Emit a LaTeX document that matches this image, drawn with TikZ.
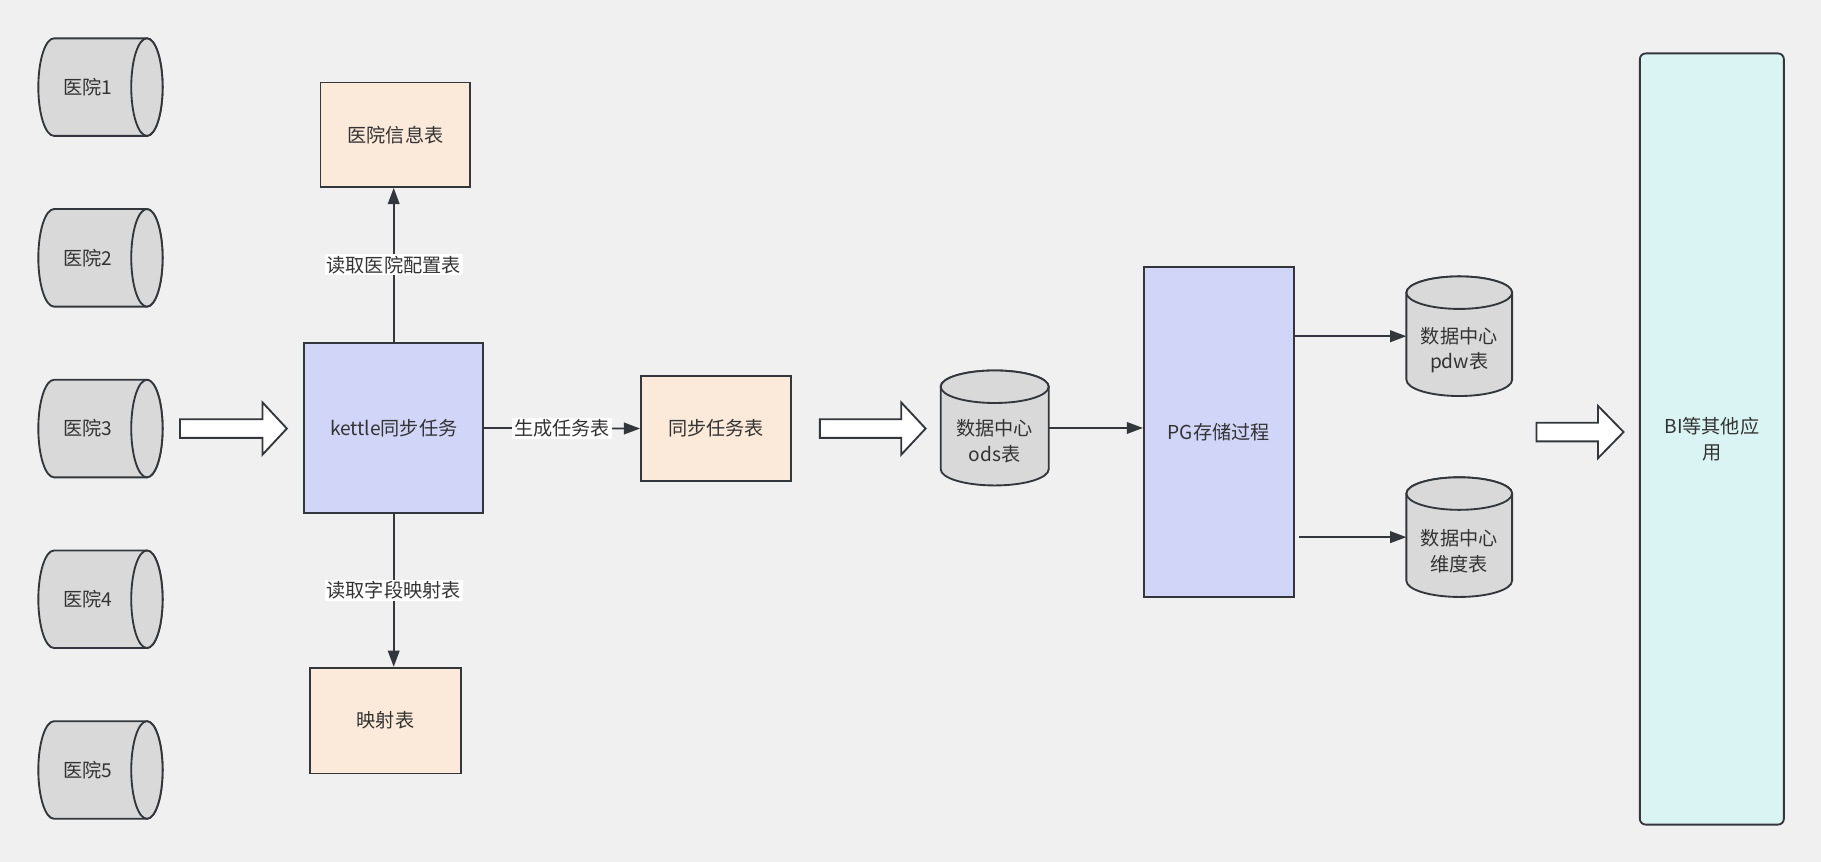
\documentclass[tikz,border=0pt]{standalone}
\usepackage{fontspec}
\setmainfont{Noto Sans CJK SC}
\usetikzlibrary{arrows.meta}
\definecolor{bgc}{HTML}{F0F0F0}
\definecolor{strokec}{HTML}{33363A}
\definecolor{txtc}{HTML}{333333}
\definecolor{peachc}{HTML}{FBE9D9}
\definecolor{lavc}{HTML}{D1D5F7}
\definecolor{cyanc}{HTML}{DAF3F3}
\definecolor{grayc}{HTML}{D9D9D9}
\tikzset{
  boxst/.style={draw=strokec, line width=1.6pt, text=txtc, inner sep=0pt, align=center},
  peachbox/.style={boxst, fill=peachc},
  lavbox/.style={boxst, fill=lavc},
  conn/.style={draw=strokec, line width=1.6pt, -{Triangle[length=14pt,width=10pt]}},
  lbl/.style={fill=white, inner sep=1.5pt, text=txtc},
  cylst/.style={fill=grayc, draw=strokec, line width=1.6pt},
  blkst/.style={fill=white, draw=strokec, line width=1.6pt, line join=miter},
  txtnode/.style={text=txtc, inner sep=0pt, align=center},
  area/.style={inner sep=0pt, outer sep=0pt}
}
\newcommand\myhcyl[3]{% L R cy
  \filldraw[cylst] ({#1+13.5},{#3-42}) -- ({#2-13.5},{#3-42})
    arc[start angle=90,end angle=-90,x radius=13.5pt,y radius=42pt]
    -- ({#1+13.5},{#3+42})
    arc[start angle=-90,end angle=-270,x radius=13.5pt,y radius=42pt] -- cycle;
  \draw[cylst] ({#2-13.5},{#3}) ellipse[x radius=13.5pt,y radius=42pt];}
\newcommand\myvcyl[4]{% L R T B
  \filldraw[cylst] ({#1},{#3+14}) -- ({#1},{#4-14})
    arc[start angle=180,end angle=360,x radius={(#2-#1)/2*1pt},y radius=14pt]
    -- ({#2},{#3+14})
    arc[start angle=0,end angle=180,x radius={(#2-#1)/2*1pt},y radius=14pt] -- cycle;
  \draw[cylst] ({(#1+#2)/2},{#3+14}) ellipse[x radius={(#2-#1)/2*1pt},y radius=14pt];}
\newcommand\myblk[4]{% x0 xb xt yc
  \filldraw[blkst] ({#1},{#4-8}) -- ({#2},{#4-8}) -- ({#2},{#4-22.5}) -- ({#3},{#4})
    -- ({#2},{#4+22.5}) -- ({#2},{#4+8}) -- ({#1},{#4+8}) -- cycle;}
\begin{document}
\begin{tikzpicture}[x=1pt,y=-1pt,font=\fontsize{16.5}{22}\selectfont]
\fill[bgc] (0,0) rectangle (1568,742);
\useasboundingbox (0,0) rectangle (1568,742);

% hospitals
\myhcyl{33}{140}{75}
\myhcyl{33}{140}{222}
\myhcyl{33}{140}{369}
\myhcyl{33}{140}{516}
\myhcyl{33}{140}{663}
\node[txtnode] (h1) at (75.5,75) {医院1};
\node[txtnode] (h2) at (75.5,222) {医院2};
\node[txtnode] (h3) at (75.5,369) {医院3};
\node[txtnode] (h4) at (75.5,516) {医院4};
\node[txtnode] (h5) at (75.5,663) {医院5};

% block arrows
\myblk{155}{226}{247}{369}
\myblk{706}{776}{797}{369}
\myblk{1323}{1376}{1398}{372}

% boxes
\node[peachbox, minimum width=129pt, minimum height=90pt] (info) at (340.5,116) {医院信息表};
\node[lavbox, minimum width=154pt, minimum height=147pt] (kettle) at (339,368.5) {kettle同步任务};
\node[peachbox, minimum width=129pt, minimum height=90pt] (sync) at (616.5,369) {同步任务表};
\node[peachbox, minimum width=130pt, minimum height=91pt] (map) at (332,620.5) {映射表};
\node[lavbox, minimum width=129pt, minimum height=284pt] (pg) at (1049.5,372) {PG存储过程};
\node[boxst, fill=cyanc, rounded corners=5pt, minimum width=124pt, minimum height=664pt] (bi) at (1474,378) {BI等其他应\\用};

% cylinders (vertical)
\myvcyl{810}{903}{319}{418}
\myvcyl{1211}{1302}{238}{341}
\myvcyl{1211}{1302}{411}{514}
\node[area, minimum width=93pt, minimum height=99pt] (ods) at (856.5,368.5) {};
\node[area, minimum width=91pt, minimum height=103pt] (pdw) at (1256.5,289.5) {};
\node[area, minimum width=91pt, minimum height=103pt] (dim) at (1256.5,462.5) {};
\node[txtnode] (odst) at (856.5,380) {数据中心\\ods表};
\node[txtnode] (pdwt) at (1256.5,301.5) {数据中心\\pdw表};
\node[txtnode] (dimt) at (1256.5,474.5) {数据中心\\维度表};

% connectors
\draw[conn] (kettle.north) -- node[lbl] {读取医院配置表} (kettle.north |- info.south);
\draw[conn] (kettle.south) -- node[lbl] {读取字段映射表} (kettle.south |- map.north);
\draw[conn] (kettle.east) -- node[lbl] {生成任务表} (sync.west);
\draw[conn] (ods.east) -- (ods.east -| pg.west);
\draw[conn] (pdw.west -| pg.east) -- (pdw.west);
\draw[conn] ([xshift=4pt]pg.east |- dim.west) -- (dim.west);
\end{tikzpicture}
\end{document}
